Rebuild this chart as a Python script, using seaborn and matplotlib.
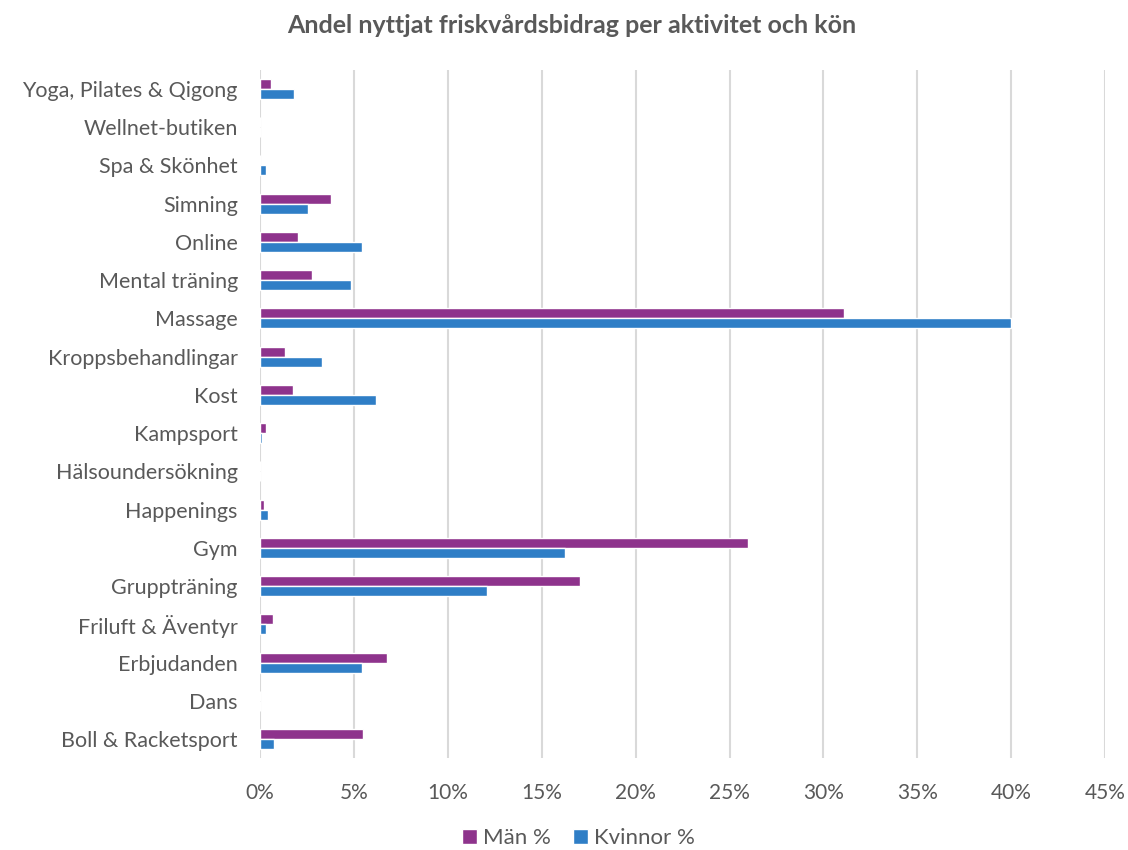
import matplotlib
matplotlib.use("Agg")
import matplotlib.pyplot as plt
import seaborn as sns
import pandas as pd
from matplotlib.ticker import FuncFormatter, MultipleLocator

categories = [
    "Yoga, Pilates & Qigong", "Wellnet-butiken", "Spa & Skönhet", "Simning",
    "Online", "Mental träning", "Massage", "Kroppsbehandlingar", "Kost",
    "Kampsport", "Hälsoundersökning", "Happenings", "Gym", "Gruppträning",
    "Friluft & Äventyr", "Erbjudanden", "Dans", "Boll & Racketsport",
]
man_pct = [0.57, 0.0, 0.02, 3.79, 2.02, 2.77, 31.1, 1.34, 1.77,
           0.34, 0.0, 0.21, 25.96, 17.04, 0.70, 6.75, 0.0, 5.46]
kvinnor_pct = [1.79, 0.0, 0.32, 2.55, 5.41, 4.84, 40.0, 3.30, 6.20,
               0.11, 0.0, 0.43, 16.26, 12.07, 0.32, 5.45, 0.0, 0.75]
series_names = ["Män %", "Kvinnor %"]
colors = ["#8E338C", "#2F7EC6"]
title = "Andel nyttjat friskvårdsbidrag per aktivitet och kön"

df = pd.DataFrame({
    "Aktivitet": categories * 2,
    "Serie": [series_names[0]] * len(categories) + [series_names[1]] * len(categories),
    "Värde": man_pct + kvinnor_pct,
})

sns.set_style("white")
plt.rcParams["font.family"] = ["Lato", "DejaVu Sans"]

fig = plt.figure(figsize=(11.28, 8.5), dpi=100)
ax = fig.add_axes([0.2305, 0.108, 0.7492, 0.81])

sns.barplot(data=df, y="Aktivitet", x="Värde", hue="Serie", order=categories,
            hue_order=series_names, palette=colors, orient="h", width=0.52,
            saturation=1, ax=ax, legend=True)

ax.set_xlim(0, 45)
ax.set_ylim(len(categories) - 0.5, -0.5)
ax.xaxis.set_major_locator(MultipleLocator(5))
ax.xaxis.set_major_formatter(FuncFormatter(lambda v, p: f"{int(round(v))}%"))
ax.set_xlabel("")
ax.set_ylabel("")
ax.grid(axis="x", color="#d9d9d9", linewidth=1.5)
ax.set_axisbelow(True)
for s in ax.spines.values():
    s.set_visible(False)
ax.tick_params(axis="both", length=0, colors="#595959")
ax.tick_params(axis="y", labelsize=15.5, pad=16)
ax.tick_params(axis="x", labelsize=15, pad=18)

fig.text(0.507, 0.97, title, ha="center", va="center", fontsize=18,
         fontweight="bold", color="#595959")

handles, labels = ax.get_legend_handles_labels()
ax.legend_.remove()
fig.legend(handles, labels, loc="center", bbox_to_anchor=(0.513, 0.014),
           ncol=2, frameon=False, fontsize=16, labelcolor="#595959",
           handlelength=0.65, handleheight=0.65, handletextpad=0.3,
           columnspacing=1.0)

fig.savefig("out.png", dpi=100)
